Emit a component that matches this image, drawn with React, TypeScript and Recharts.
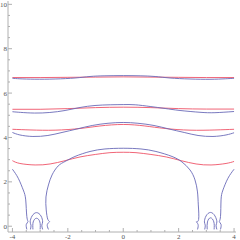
import { LineChart, Line, XAxis, YAxis } from "recharts";

// contour lines as [x, y] pairs
const red1 = [[-4, 6.7], [-3, 6.7], [-2, 6.71], [-1, 6.72], [0, 6.73], [1, 6.72], [2, 6.71], [3, 6.7], [4, 6.7]];
const blue1 = [[-4, 6.667], [-3.73, 6.644], [-3.19, 6.626], [-2.46, 6.635], [-1.74, 6.68], [-1.2, 6.748], [-0.66, 6.779], [0, 6.788], [0.61, 6.779], [1.15, 6.748], [1.69, 6.68], [2.41, 6.635], [3.13, 6.622], [3.68, 6.644], [4, 6.667]];

const red2 = [[-4, 5.27], [-3, 5.27], [-2, 5.3], [-1, 5.345], [0, 5.365], [1, 5.345], [2, 5.3], [3, 5.28], [4, 5.28]];
const blue2 = [[-4, 5.16], [-3.7, 5.13], [-3.2, 5.1], [-2.65, 5.126], [-2.1, 5.216], [-1.56, 5.351], [-1.02, 5.441], [-0.47, 5.473], [0, 5.482], [0.43, 5.473], [0.97, 5.396], [1.51, 5.306], [2.05, 5.216], [2.77, 5.135], [3.31, 5.117], [4, 5.17]];

const red3 = [[-4, 4.369], [-3.33, 4.338], [-2.46, 4.329], [-1.56, 4.405], [-0.84, 4.518], [0, 4.586], [0.78, 4.518], [1.51, 4.405], [2.41, 4.329], [3.31, 4.338], [4, 4.369]];
const blue3 = [[-4, 4.225], [-3.73, 4.113], [-3.26, 4.045], [-2.72, 4.09], [-2.21, 4.225], [-1.67, 4.383], [-1.12, 4.54], [-0.55, 4.64], [0, 4.676], [0.53, 4.64], [1.11, 4.54], [1.65, 4.383], [2.2, 4.225], [2.7, 4.09], [3.24, 4.045], [3.71, 4.113], [4, 4.212]];

const red4 = [[-4, 2.955], [-3.73, 2.829], [-3.18, 2.761], [-2.64, 2.806], [-2.1, 2.955], [-1.56, 3.122], [-1.01, 3.234], [-0.48, 3.315], [0, 3.333], [0.46, 3.315], [1.0, 3.234], [1.55, 3.122], [2.09, 2.955], [2.63, 2.806], [3.17, 2.761], [3.71, 2.829], [4, 2.92]];
const arch = [[-2.7, -0.144], [-2.74, 0.08], [-2.66, 0.2], [-2.72, 0.3], [-2.78, 0.734], [-2.79, 1.32], [-2.7, 1.86], [-2.57, 2.311], [-2.35, 2.716], [-2.1, 2.919], [-1.74, 3.144], [-1.2, 3.369], [-0.66, 3.482], [0, 3.514], [0.64, 3.482], [1.18, 3.369], [1.76, 3.144], [2.12, 2.896], [2.41, 2.536], [2.59, 2.086], [2.68, 1.545], [2.71, 0.959], [2.72, 0.3], [2.64, 0.2], [2.7, 0.08], [2.68, -0.144]];

const outerLeft = [[-4, 2.568], [-3.79, 2.162], [-3.61, 1.635], [-3.52, 1.185], [-3.48, 0.432], [-3.44, 0.2], [-3.5, 0.08], [-3.48, -0.144]];
const outerRight = [[4, 2.568], [3.78, 2.162], [3.6, 1.635], [3.53, 1.185], [3.51, 0.432], [3.47, 0.2], [3.53, 0.08], [3.51, -0.144]];

const loopLeftOuter = [[-3.35, -0.144], [-3.33, 0.05], [-3.36, 0.194], [-3.29, 0.464], [-3.13, 0.613], [-2.97, 0.464], [-2.91, 0.194], [-2.94, 0.05], [-2.91, -0.144]];
const loopLeftInner = [[-3.26, -0.144], [-3.25, 0.194], [-3.13, 0.36], [-3.01, 0.194], [-3.0, -0.144]];
const loopRightOuter = [[2.94, -0.144], [2.96, 0.05], [2.93, 0.194], [2.99, 0.464], [3.15, 0.622], [3.31, 0.464], [3.38, 0.194], [3.35, 0.05], [3.38, -0.144]];
const loopRightInner = [[3.03, -0.144], [3.04, 0.194], [3.15, 0.38], [3.27, 0.194], [3.28, -0.144]];

const xTicks = [-4, -3.5, -3, -2.5, -2, -1.5, -1, -0.5, 0, 0.5, 1, 1.5, 2, 2.5, 3, 3.5, 4];
const yTicks = [0, 0.5, 1, 1.5, 2, 2.5, 3, 3.5, 4, 4.5, 5, 5.5, 6, 6.5, 7, 7.5, 8, 8.5, 9, 9.5, 10];
const xLabels = [-4, -2, 0, 2, 4];
const yLabels = [0, 2, 4, 6, 8, 10];

const redLines = [red1, red2, red3, red4];
const blueLines = [blue1, blue2, blue3, arch, outerLeft, outerRight, loopLeftOuter, loopLeftInner, loopRightOuter, loopRightInner];

const toPoints = (pairs: number[][]) => pairs.map(([x, y]) => ({ x, y }));

const FRAME = "#b0b0b0";
const BLUE = "#6a6ab8";
const RED = "#ee5468";
const labelStyle = { fontSize: 7, fontFamily: "Liberation Serif", fill: "#555" };

const BottomTick = ({ x, y, payload }: any) => {
  const major = xLabels.includes(payload.value);
  return (
    <g>
      <line x1={x} y1={y} x2={x} y2={y - (major ? 4 : 2)} stroke={FRAME} />
      {major && (
        <text x={x} y={y + 7} textAnchor="middle" {...labelStyle}>
          {payload.value}
        </text>
      )}
    </g>
  );
};

const TopTick = ({ x, y, payload }: any) => {
  const major = xLabels.includes(payload.value);
  return <line x1={x} y1={y} x2={x} y2={y + (major ? 4 : 2)} stroke={FRAME} />;
};

const LeftTick = ({ x, y, payload }: any) => {
  const major = yLabels.includes(payload.value);
  return (
    <g>
      <line x1={x} y1={y} x2={x + (major ? 4 : 2)} y2={y} stroke={FRAME} />
      {major && (
        <text x={x - 1} y={y + 2.5} textAnchor="end" {...labelStyle}>
          {payload.value}
        </text>
      )}
    </g>
  );
};

const RightTick = ({ x, y, payload }: any) => {
  const major = yLabels.includes(payload.value);
  return <line x1={x} y1={y} x2={x - (major ? 4 : 2)} y2={y} stroke={FRAME} />;
};

export default function App() {
  return (
    <div style={{ position: "absolute", left: 0, top: 0, background: "#fff" }}>
      <LineChart width={240} height={240} margin={{ top: 1, right: 4, bottom: 0, left: 0 }}>
        <XAxis
          type="number"
          dataKey="x"
          domain={[-4.16, 4.07]}
          allowDataOverflow
          ticks={xTicks}
          interval={0}
          height={8}
          tickSize={0}
          tickMargin={0}
          tickLine={false}
          stroke={FRAME}
          axisLine={{ stroke: FRAME }}
          tick={(p: any) => <BottomTick {...p} />}
        />
        <XAxis
          xAxisId="top"
          orientation="top"
          type="number"
          dataKey="x"
          domain={[-4.16, 4.07]}
          allowDataOverflow
          ticks={xTicks}
          interval={0}
          height={0}
          tickSize={0}
          tickMargin={0}
          tickLine={false}
          stroke={FRAME}
          axisLine={{ stroke: FRAME }}
          tick={(p: any) => <TopTick {...p} />}
        />
        <YAxis
          type="number"
          dataKey="y"
          domain={[-0.26, 10.15]}
          allowDataOverflow
          ticks={yTicks}
          interval={0}
          width={8}
          tickSize={0}
          tickMargin={0}
          tickLine={false}
          stroke={FRAME}
          axisLine={{ stroke: FRAME }}
          tick={(p: any) => <LeftTick {...p} />}
        />
        <YAxis
          yAxisId="right"
          orientation="right"
          type="number"
          dataKey="y"
          domain={[-0.26, 10.15]}
          allowDataOverflow
          ticks={yTicks}
          interval={0}
          width={0}
          tickSize={0}
          tickMargin={0}
          tickLine={false}
          stroke={FRAME}
          axisLine={{ stroke: FRAME }}
          tick={(p: any) => <RightTick {...p} />}
        />
        {redLines.map((pairs, i) => (
          <Line
            key={"r" + i}
            data={toPoints(pairs)}
            dataKey="y"
            type="natural"
            stroke={RED}
            strokeWidth={0.9}
            dot={false}
            isAnimationActive={false}
          />
        ))}
        {blueLines.map((pairs, i) => (
          <Line
            key={"b" + i}
            data={toPoints(pairs)}
            dataKey="y"
            type="natural"
            stroke={BLUE}
            strokeWidth={0.9}
            dot={false}
            isAnimationActive={false}
          />
        ))}
      </LineChart>
    </div>
  );
}
